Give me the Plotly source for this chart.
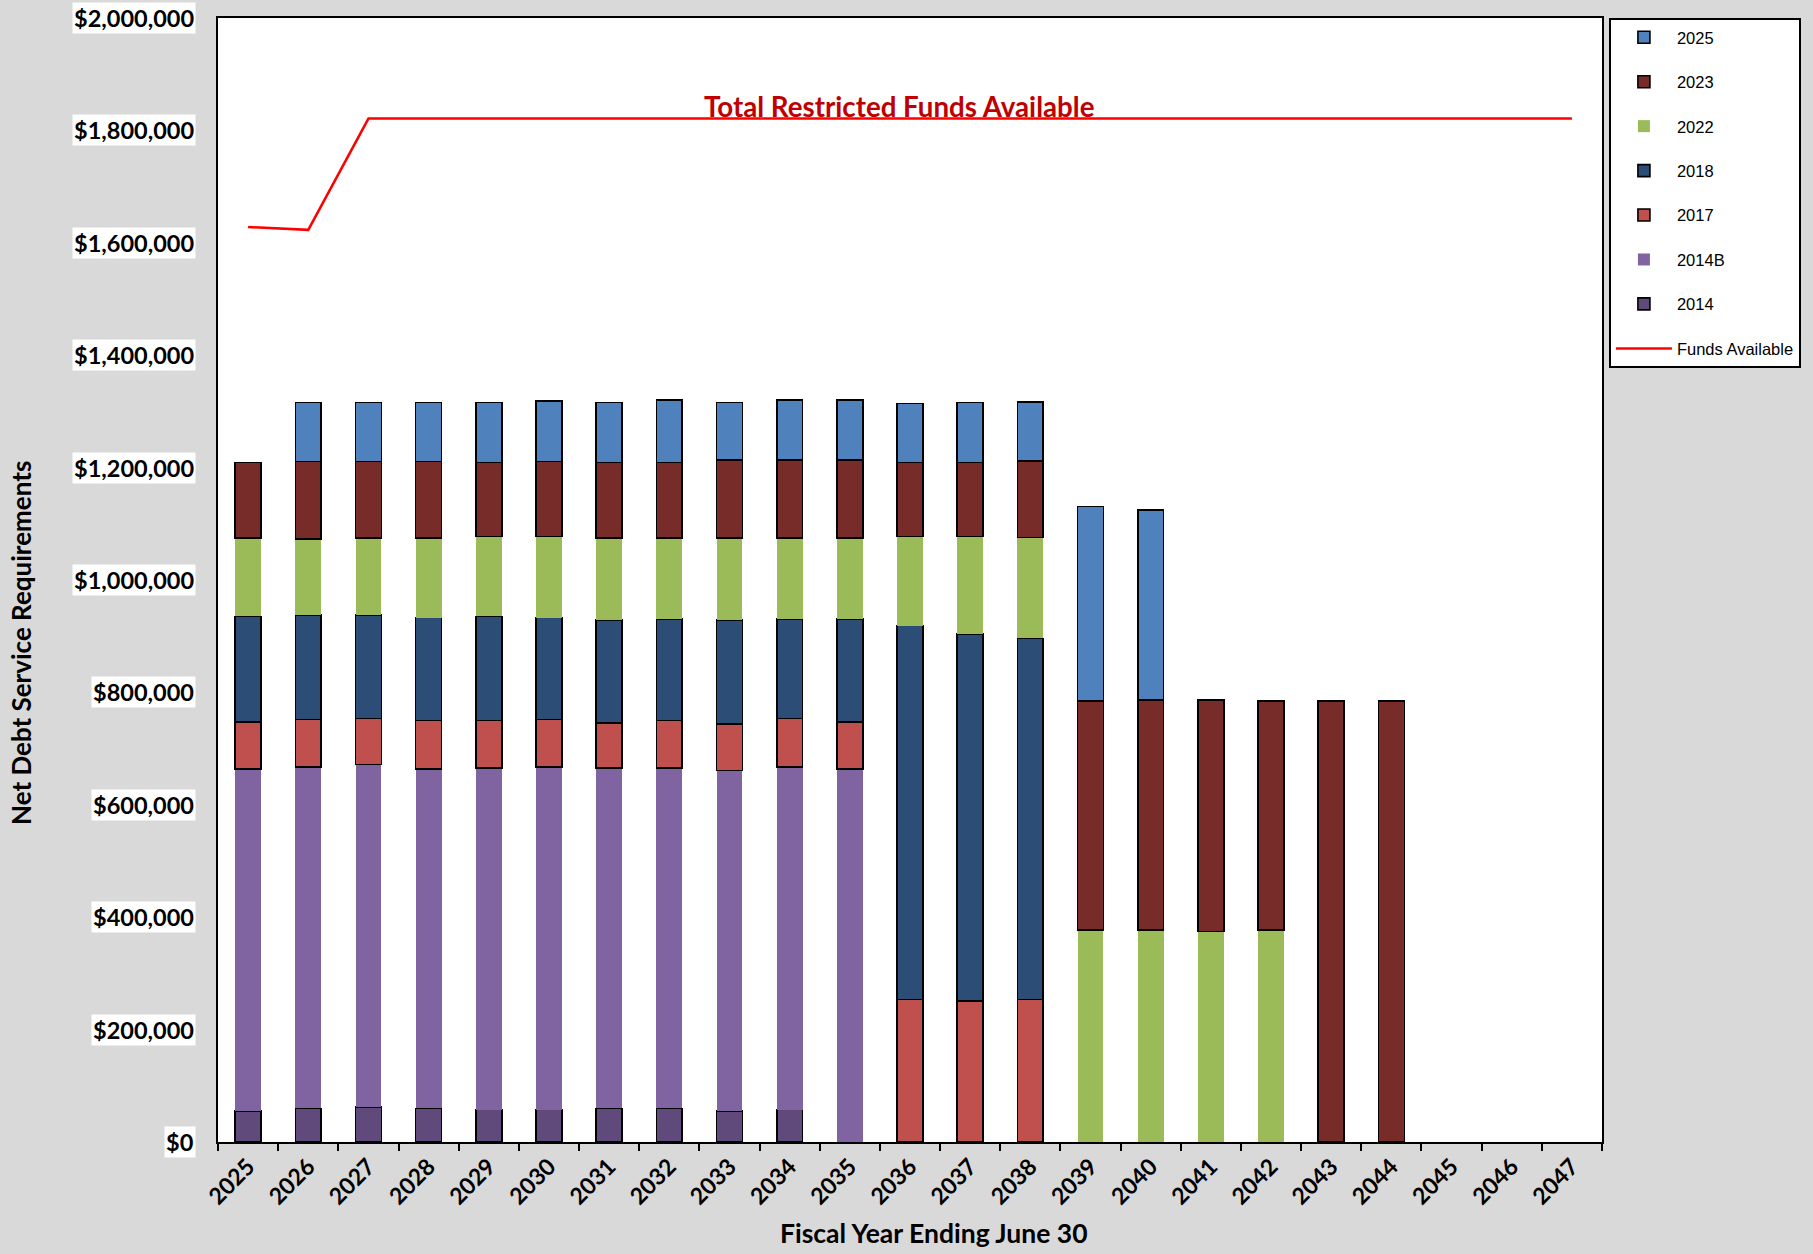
import plotly.graph_objects as go

years = [str(y) for y in range(2025, 2048)]

N = None
s2014 = [55600, 59700, 61800, 59700, 57700, 57700, 59700, 59700, 55600, 57700, N, N, N, N, N, N, N, N, N, N, N, N, N]
s2014b = [607600, 607600, 609700, 603500, 607600, 609700, 605600, 605600, 605600, 609700, 663200, N, N, N, N, N, N, N, N, N, N, N, N]
s2017 = [84500, 84500, 82400, 86500, 84500, 84500, 80300, 84500, 82400, 86500, 84500, 253400, 251300, 253400, N, N, N, N, N, N, N, N, N]
s2018 = [187400, 185400, 183300, 183300, 185400, 181300, 183300, 181300, 185400, 177100, 183300, 665300, 653000, 642700, N, N, N, N, N, N, N, N, N]
s2022 = [140000, 136000, 138000, 142000, 142000, 144000, 146000, 144000, 146000, 144000, 144000, 158600, 173000, 179200, 377000, 377000, 374900, 377000, N, N, N, N, N]
s2023 = [133900, 138000, 136000, 136000, 131800, 133900, 133900, 133900, 138000, 138000, 138000, 131800, 131800, 136000, 408000, 410000, 412000, 407800, 784800, 784800, N, N, N]
s2025 = [N, 105000, 105000, 105000, 107000, 107000, 107000, 111000, 103000, 107000, 107000, 105000, 107000, 105000, 346000, 337800, N, N, N, N, N, N, N]
funds_available = [1628000, 1623000] + [1821000] * 21

y_tick_values = [0, 200000, 400000, 600000, 800000, 1000000, 1200000, 1400000, 1600000, 1800000, 2000000]
y_tick_labels = ["$0", "$200,000", "$400,000", "$600,000", "$800,000", "$1,000,000",
                 "$1,200,000", "$1,400,000", "$1,600,000", "$1,800,000", "$2,000,000"]

series = [
    ("2014", s2014, "#5f4a7b", True),
    ("2014B", s2014b, "#8064a2", False),
    ("2017", s2017, "#c0504d", True),
    ("2018", s2018, "#2c4d75", True),
    ("2022", s2022, "#9bbb59", False),
    ("2023", s2023, "#772c2a", True),
    ("2025", s2025, "#4f81bd", True),
]

FONT = "Lato"
fig = go.Figure()
n = len(series)
for i, (name, vals, color, outlined) in enumerate(series):
    fig.add_trace(go.Bar(
        x=years, y=vals, name=name, width=0.43,
        marker=dict(color=color,
                    line=dict(color="black" if outlined else color, width=1.6 if outlined else 0)),
        legendgroup=name, legendrank=n - i,
    ))

fig.add_trace(go.Scatter(
    x=years, y=funds_available, mode="lines", name="Funds Available",
    line=dict(color="#ff0000", width=2.5), legendgroup="funds", legendrank=n + 1,
))

annotations = []
for v, t in zip(y_tick_values, y_tick_labels):
    annotations.append(dict(
        x=0, xref="paper", y=v, yref="y", text=t, showarrow=False,
        xanchor="right", yanchor="middle", xshift=-22,
        bgcolor="white", borderpad=1,
        font=dict(family=FONT, size=23.5, color="black", weight="bold"),
    ))
annotations.append(dict(
    x=0.492, xref="paper", y=funds_available[-1], yref="y",
    text="Total Restricted Funds Available", showarrow=False,
    xanchor="center", yanchor="bottom", yshift=-6,
    font=dict(family=FONT, size=27.7, color="#c00000", weight="bold"),
))
annotations.append(dict(
    x=0.517, xref="paper", y=0, yref="paper",
    text="Fiscal Year Ending June 30", showarrow=False,
    xanchor="center", yanchor="middle", yshift=-91,
    font=dict(family=FONT, size=26.5, color="black", weight="bold"),
))
annotations.append(dict(
    x=0, xref="paper", y=0.444, yref="paper",
    text="Net Debt Service Requirements", showarrow=False, textangle=-90,
    xanchor="center", yanchor="middle", xshift=-197,
    font=dict(family=FONT, size=26, color="black", weight="bold"),
))

fig.update_layout(
    width=1813, height=1254,
    barmode="stack",
    paper_bgcolor="#d9d9d9", plot_bgcolor="white",
    margin=dict(l=218, r=211, t=18, b=112),
    font=dict(family=FONT, color="black"),
    annotations=annotations,
    legend=dict(
        x=1.005, xanchor="left", y=1, yanchor="top",
        bgcolor="white", bordercolor="black", borderwidth=2,
        font=dict(family="Liberation Sans", size=16.5, color="black"),
        tracegroupgap=20, itemwidth=56,
        entrywidth=152,
    ),
    showlegend=True,
)

fig.update_xaxes(
    type="category", range=[-0.5, 22.5],
    showline=True, linecolor="black", linewidth=2, mirror=True,
    ticks="outside", tickson="boundaries", ticklen=7, tickcolor="black", tickwidth=1.5,
    tickangle=-45,
    tickfont=dict(family=FONT, size=23, color="black", weight="bold"),
    showgrid=False,
)
fig.update_yaxes(
    range=[0, 2000000], tickvals=y_tick_values, showticklabels=False, ticks="",
    showline=True, linecolor="black", linewidth=2, mirror=True,
    showgrid=False, zeroline=False,
)

fig.write_html("out.html", config={"displayModeBar": False},
               post_script="document.body.style.margin='0px';")
